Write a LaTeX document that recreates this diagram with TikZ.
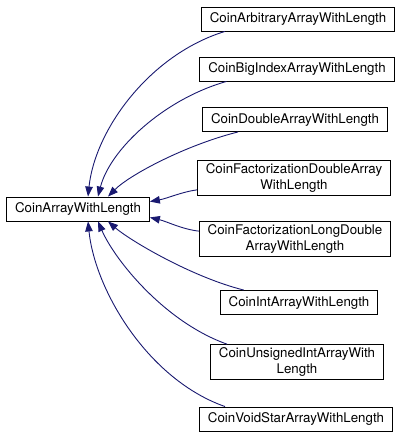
\documentclass[tikz,border=0pt]{standalone}
\usepackage{fontspec}
\setmainfont{TeX Gyre Heros}
\usetikzlibrary{positioning}
\usetikzlibrary{arrows.meta}
\definecolor{edgeblue}{HTML}{191970}

\begin{document}
\begin{tikzpicture}[x=1pt,y=-1pt,
	cls/.style={draw, line width=0.9pt, fill=white, inner xsep=8.5pt, inner ysep=3pt,
		minimum height=24pt, align=center, font=\fontsize{13.3}{16}\selectfont},
	inh/.style={edgeblue, line width=0.9pt, -{Triangle[length=10pt,width=7.5pt]}}]
		\useasboundingbox (0,0) rectangle (403,439);
		\node (base) [cls] at (78,209) {CoinArrayWithLength};
		\node (arb) [cls] at (298,19) {CoinArbitraryArrayWithLength};
		\node (big) [cls] at (297,69) {CoinBigIndexArrayWithLength};
		\node (dbl) [cls] at (295,119.5) {CoinDoubleArrayWithLength};
		\node (fdbl) [cls] at (294,178) {CoinFactorizationDoubleArray\\WithLength};
		\node (fldbl) [cls] at (295,239) {CoinFactorizationLongDouble\\ArrayWithLength};
		\node (int) [cls] at (299,302.5) {CoinIntArrayWithLength};
		\node (uint) [cls] at (297,362) {CoinUnsignedIntArrayWith\\Length};
		\node (void) [cls] at (296,419) {CoinVoidStarArrayWithLength};
		\draw [inh] ([xshift=24pt]arb.south west) .. controls +(-75,23) and +(7,-67) .. ([xshift=10pt]base.north);
		\draw [inh] ([xshift=27pt]big.south west) .. controls +(-63,18) and +(12,-47) .. ([xshift=20pt]base.north);
		\draw [inh] ([xshift=36pt]dbl.south west) .. controls +(-52,13) and +(22,-22) .. ([xshift=30pt]base.north);
		\draw [inh] ([yshift=6pt]fdbl.south west) .. controls +(-15,2) and +(17,-3) .. ([yshift=-5pt]base.north east);
		\draw [inh] ([yshift=-10pt]fldbl.north west) .. controls +(-17,-2) and +(17,4) .. ([yshift=4pt]base.south east);
		\draw [inh] ([xshift=24pt]int.north west) .. controls +(-52,-13) and +(22,19) .. ([xshift=30pt]base.south);
		\draw [inh] ([xshift=17pt]uint.north west) .. controls +(-62,-22) and +(17,39) .. ([xshift=20pt]base.south);
		\draw [inh] ([xshift=26pt]void.north west) .. controls +(-77,-27) and +(7,69) .. ([xshift=10pt]base.south);
\end{tikzpicture}
\end{document}
